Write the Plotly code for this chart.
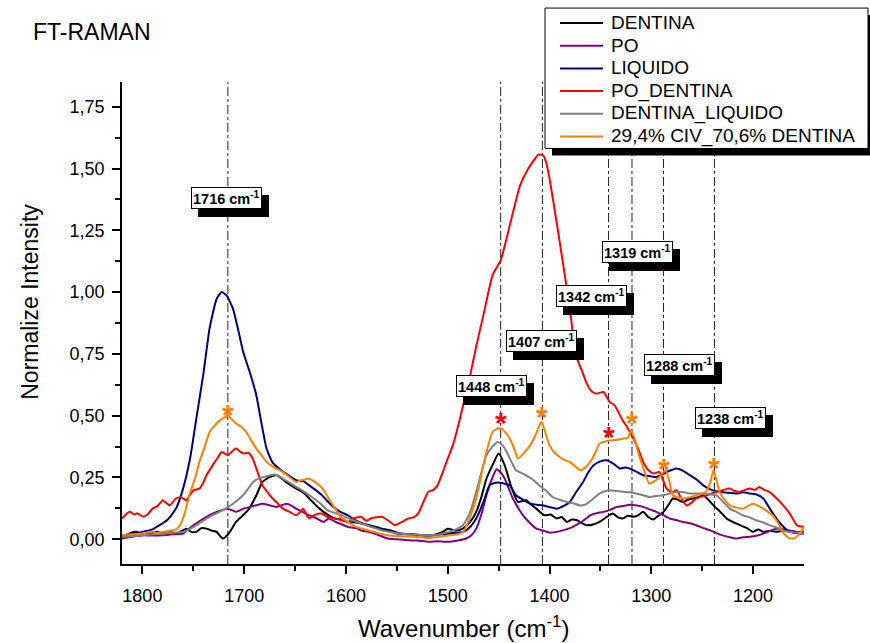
import plotly.graph_objects as go

# ---------------- data ----------------
wn_dentina = [1820, 1812, 1806, 1800, 1793, 1786, 1780, 1773, 1766, 1757, 1752, 1747, 1742, 1737, 1732, 1727, 1724, 1721, 1718, 1714,
              1708, 1701, 1695, 1688, 1682, 1675, 1668, 1659, 1649, 1642, 1636, 1626, 1618, 1611, 1604, 1598, 1590, 1585, 1575, 1565,
              1555, 1546, 1535, 1526, 1515, 1505, 1500, 1492, 1485, 1478, 1472, 1467, 1462, 1456, 1450, 1444, 1437, 1431, 1423, 1418,
              1413, 1405, 1399, 1393, 1388, 1383, 1378, 1373, 1368, 1364, 1357, 1351, 1344, 1338, 1333, 1328, 1323, 1318, 1313, 1308,
              1303, 1298, 1293, 1288, 1283, 1279, 1274, 1269, 1264, 1259, 1254, 1249, 1244, 1239, 1232, 1226, 1220, 1213, 1206, 1200,
              1195, 1190, 1183, 1177, 1170, 1163, 1157, 1150]
dentina = [0.010, 0.025, 0.030, 0.020, 0.023, 0.030, 0.025, 0.030, 0.023, 0.043, 0.030, 0.030, 0.045, 0.043, 0.035, 0.030, 0.015, 0.003, 0.010, 0.030,
           0.070, 0.097, 0.124, 0.178, 0.232, 0.252, 0.259, 0.232, 0.205, 0.190, 0.165, 0.124, 0.100, 0.084, 0.080, 0.070, 0.068, 0.064, 0.055, 0.043,
           0.035, 0.023, 0.020, 0.016, 0.016, 0.030, 0.043, 0.035, 0.043, 0.070, 0.111, 0.170, 0.245, 0.300, 0.347, 0.299, 0.205, 0.151, 0.158, 0.140,
           0.124, 0.097, 0.100, 0.084, 0.090, 0.070, 0.080, 0.077, 0.065, 0.057, 0.060, 0.070, 0.090, 0.104, 0.090, 0.084, 0.095, 0.091, 0.097, 0.111,
           0.090, 0.080, 0.095, 0.111, 0.140, 0.165, 0.160, 0.151, 0.160, 0.165, 0.170, 0.178, 0.160, 0.137, 0.110, 0.084, 0.070, 0.057, 0.045, 0.030,
           0.040, 0.030, 0.035, 0.030, 0.035, 0.030, 0.025, 0.023]

wn_po = [1820, 1810, 1799, 1790, 1780, 1770, 1760, 1755, 1750, 1745, 1740, 1735, 1731, 1724, 1717, 1712, 1708, 1700, 1694, 1688,
         1682, 1675, 1668, 1663, 1658, 1653, 1649, 1642, 1636, 1629, 1622, 1617, 1610, 1604, 1598, 1590, 1585, 1578, 1570, 1559,
         1550, 1539, 1530, 1519, 1510, 1503, 1498, 1490, 1482, 1477, 1472, 1467, 1462, 1456, 1452, 1448, 1444, 1436, 1426, 1419,
         1413, 1406, 1400, 1393, 1387, 1380, 1374, 1367, 1360, 1354, 1347, 1340, 1334, 1327, 1321, 1314, 1308, 1301, 1295, 1288,
         1282, 1275, 1269, 1262, 1256, 1249, 1242, 1236, 1230, 1223, 1216, 1210, 1203, 1196, 1190, 1183, 1177, 1170, 1163, 1157, 1150]
po = [0.003, 0.010, 0.016, 0.015, 0.016, 0.020, 0.023, 0.040, 0.057, 0.070, 0.084, 0.095, 0.104, 0.115, 0.124, 0.118, 0.111, 0.125, 0.131, 0.138,
      0.144, 0.138, 0.131, 0.138, 0.144, 0.135, 0.124, 0.110, 0.097, 0.085, 0.070, 0.084, 0.070, 0.060, 0.050, 0.045, 0.035, 0.030, 0.020, 0.003,
      0.000, -0.004, -0.005, -0.010, -0.008, -0.010, -0.010, -0.005, 0.003, 0.015, 0.043, 0.100, 0.178, 0.250, 0.283, 0.270, 0.245, 0.165, 0.097, 0.065,
      0.043, 0.035, 0.027, 0.030, 0.036, 0.045, 0.057, 0.075, 0.097, 0.105, 0.111, 0.120, 0.131, 0.135, 0.140, 0.137, 0.131, 0.120, 0.111, 0.097,
      0.084, 0.077, 0.070, 0.065, 0.057, 0.045, 0.036, 0.025, 0.016, 0.008, 0.003, 0.008, 0.010, 0.015, 0.023, 0.035, 0.043, 0.040, 0.035, 0.030, 0.030]

wn_liquido = [1820, 1810, 1800, 1790, 1783, 1775, 1767, 1760, 1753, 1747, 1740, 1734, 1727, 1722, 1717, 1711, 1706, 1701, 1694, 1688,
              1683, 1678, 1672, 1662, 1655, 1649, 1642, 1636, 1630, 1624, 1619, 1612, 1605, 1598, 1590, 1579, 1570, 1560, 1549, 1540,
              1530, 1516, 1505, 1495, 1485, 1478, 1472, 1465, 1459, 1454, 1449, 1444, 1439, 1433, 1426, 1419, 1413, 1406, 1400, 1393,
              1386, 1380, 1374, 1367, 1362, 1357, 1350, 1344, 1337, 1331, 1326, 1321, 1314, 1308, 1301, 1295, 1290, 1285, 1280, 1275,
              1268, 1262, 1255, 1249, 1241, 1233, 1225, 1216, 1210, 1203, 1196, 1190, 1183, 1177, 1170, 1164, 1157, 1150]
liquido = [0.016, 0.020, 0.030, 0.040, 0.057, 0.080, 0.124, 0.205, 0.330, 0.488, 0.670, 0.852, 0.973, 1.000, 0.985, 0.933, 0.850, 0.759, 0.670, 0.582,
           0.470, 0.367, 0.310, 0.274, 0.255, 0.239, 0.235, 0.218, 0.200, 0.180, 0.158, 0.130, 0.110, 0.097, 0.075, 0.057, 0.045, 0.035, 0.023, 0.020,
           0.018, 0.016, 0.020, 0.025, 0.030, 0.050, 0.084, 0.150, 0.218, 0.228, 0.229, 0.225, 0.218, 0.178, 0.160, 0.144, 0.140, 0.137, 0.130, 0.124,
           0.135, 0.151, 0.190, 0.232, 0.270, 0.299, 0.315, 0.320, 0.305, 0.286, 0.290, 0.286, 0.272, 0.259, 0.255, 0.252, 0.260, 0.272, 0.280, 0.286,
           0.275, 0.259, 0.240, 0.218, 0.200, 0.192, 0.188, 0.185, 0.190, 0.185, 0.180, 0.165, 0.120, 0.084, 0.050, 0.030, 0.025, 0.023]

wn_po_dentina = [1820, 1815, 1812, 1808, 1805, 1799, 1795, 1790, 1785, 1780, 1776, 1773, 1767, 1762, 1757, 1750, 1744, 1740, 1737, 1731,
                 1726, 1722, 1716, 1712, 1708, 1704, 1701, 1696, 1692, 1688, 1682, 1677, 1672, 1667, 1662, 1655, 1649, 1645, 1642, 1639,
                 1636, 1630, 1624, 1618, 1611, 1605, 1598, 1592, 1585, 1580, 1575, 1565, 1558, 1552, 1545, 1539, 1533, 1529, 1524, 1519,
                 1514, 1510, 1505, 1500, 1495, 1488, 1478, 1472, 1465, 1456, 1448, 1439, 1429, 1421, 1415, 1411, 1406, 1403, 1400, 1393,
                 1387, 1380, 1374, 1368, 1364, 1359, 1354, 1347, 1341, 1336, 1329, 1321, 1313, 1308, 1303, 1298, 1292, 1285, 1280, 1275,
                 1270, 1265, 1260, 1256, 1246, 1236, 1229, 1223, 1218, 1213, 1208, 1203, 1198, 1194, 1189, 1184, 1178, 1171, 1164, 1157, 1150]
po_dentina = [0.084, 0.105, 0.111, 0.100, 0.105, 0.091, 0.100, 0.124, 0.135, 0.158, 0.145, 0.137, 0.165, 0.170, 0.158, 0.198, 0.205, 0.230, 0.259, 0.299,
              0.330, 0.353, 0.340, 0.355, 0.367, 0.355, 0.347, 0.350, 0.330, 0.286, 0.218, 0.190, 0.165, 0.145, 0.124, 0.110, 0.097, 0.110, 0.124, 0.100,
              0.084, 0.100, 0.104, 0.090, 0.084, 0.078, 0.070, 0.085, 0.091, 0.075, 0.085, 0.091, 0.075, 0.057, 0.070, 0.084, 0.090, 0.104, 0.150, 0.192,
              0.200, 0.218, 0.270, 0.326, 0.380, 0.488, 0.663, 0.780, 0.906, 1.068, 1.128, 1.270, 1.431, 1.499, 1.535, 1.556, 1.553, 1.520, 1.459, 1.283,
              1.122, 0.933, 0.744, 0.680, 0.636, 0.600, 0.589, 0.596, 0.556, 0.542, 0.488, 0.434, 0.367, 0.313, 0.280, 0.266, 0.272, 0.205, 0.190, 0.198,
              0.160, 0.137, 0.150, 0.165, 0.178, 0.192, 0.200, 0.205, 0.195, 0.192, 0.200, 0.205, 0.200, 0.212, 0.200, 0.192, 0.170, 0.140, 0.104, 0.057, 0.050]

wn_dentina_liquido = [1820, 1810, 1800, 1790, 1780, 1770, 1760, 1753, 1747, 1740, 1734, 1727, 1721, 1716, 1711, 1706, 1701, 1696, 1691, 1686,
                      1681, 1675, 1670, 1666, 1662, 1655, 1649, 1642, 1636, 1629, 1623, 1618, 1611, 1604, 1595, 1585, 1575, 1565, 1555, 1545,
                      1530, 1519, 1510, 1505, 1495, 1485, 1478, 1472, 1467, 1462, 1456, 1451, 1446, 1442, 1437, 1433, 1423, 1416, 1410, 1403,
                      1397, 1390, 1383, 1376, 1370, 1365, 1361, 1356, 1351, 1345, 1341, 1334, 1328, 1321, 1315, 1308, 1302, 1295, 1288, 1282,
                      1275, 1268, 1262, 1255, 1249, 1242, 1236, 1229, 1223, 1216, 1210, 1203, 1197, 1190, 1184, 1177, 1171, 1164, 1157, 1150]
dentina_liquido = [0.010, 0.012, 0.016, 0.020, 0.023, 0.027, 0.030, 0.042, 0.057, 0.075, 0.091, 0.105, 0.117, 0.130, 0.144, 0.160, 0.178, 0.205, 0.232, 0.245,
                   0.252, 0.258, 0.262, 0.255, 0.245, 0.228, 0.212, 0.195, 0.178, 0.158, 0.137, 0.117, 0.107, 0.097, 0.080, 0.064, 0.050, 0.036, 0.028, 0.022,
                   0.018, 0.016, 0.018, 0.023, 0.035, 0.057, 0.110, 0.192, 0.270, 0.340, 0.375, 0.394, 0.380, 0.353, 0.310, 0.279, 0.259, 0.240, 0.218, 0.195,
                   0.171, 0.160, 0.151, 0.145, 0.137, 0.140, 0.151, 0.168, 0.185, 0.195, 0.198, 0.195, 0.192, 0.190, 0.185, 0.178, 0.171, 0.175, 0.178, 0.185,
                   0.192, 0.190, 0.185, 0.185, 0.185, 0.182, 0.178, 0.150, 0.124, 0.110, 0.097, 0.088, 0.077, 0.068, 0.057, 0.047, 0.036, 0.030, 0.026, 0.023]

wn_civ_dentina = [1820, 1810, 1799, 1790, 1785, 1780, 1772, 1767, 1763, 1758, 1754, 1748, 1744, 1739, 1734, 1729, 1724, 1720, 1716, 1712,
                  1708, 1703, 1698, 1693, 1688, 1683, 1678, 1670, 1662, 1655, 1649, 1643, 1636, 1630, 1623, 1617, 1610, 1605, 1598, 1590,
                  1578, 1568, 1559, 1545, 1532, 1520, 1513, 1505, 1498, 1490, 1485, 1479, 1472, 1467, 1462, 1456, 1451, 1447, 1443, 1439,
                  1435, 1431, 1425, 1419, 1414, 1408, 1404, 1400, 1395, 1390, 1385, 1380, 1375, 1370, 1365, 1360, 1355, 1351, 1346, 1341,
                  1335, 1328, 1323, 1320, 1316, 1313, 1308, 1302, 1297, 1292, 1286, 1282, 1279, 1274, 1269, 1262, 1256, 1250, 1246, 1242,
                  1239, 1236, 1233, 1228, 1223, 1216, 1210, 1205, 1200, 1195, 1190, 1185, 1181, 1176, 1171, 1165, 1160, 1155, 1150]
civ_dentina = [0.016, 0.020, 0.023, 0.030, 0.025, 0.030, 0.035, 0.040, 0.057, 0.110, 0.178, 0.250, 0.313, 0.370, 0.434, 0.460, 0.481, 0.490, 0.501, 0.485,
               0.468, 0.455, 0.434, 0.400, 0.367, 0.340, 0.313, 0.290, 0.272, 0.250, 0.232, 0.240, 0.245, 0.230, 0.205, 0.165, 0.120, 0.090, 0.070, 0.050,
               0.036, 0.025, 0.016, 0.012, 0.010, 0.005, 0.008, 0.012, 0.016, 0.020, 0.030, 0.080, 0.165, 0.260, 0.353, 0.434, 0.448, 0.448, 0.430, 0.407,
               0.370, 0.326, 0.350, 0.380, 0.420, 0.475, 0.430, 0.380, 0.350, 0.333, 0.320, 0.313, 0.295, 0.279, 0.290, 0.313, 0.350, 0.387, 0.395, 0.400,
               0.402, 0.407, 0.410, 0.441, 0.400, 0.353, 0.290, 0.225, 0.235, 0.252, 0.279, 0.230, 0.178, 0.170, 0.165, 0.170, 0.178, 0.185, 0.192, 0.230,
               0.279, 0.240, 0.192, 0.160, 0.137, 0.128, 0.124, 0.135, 0.144, 0.135, 0.124, 0.110, 0.097, 0.070, 0.030, 0.005, 0.003, 0.020, 0.050]

series_names = ["DENTINA", "PO", "LIQUIDO", "PO_DENTINA", "DENTINA_LIQUIDO", "29,4% CIV_70,6% DENTINA"]

peak_wn = [1716, 1448, 1407, 1342, 1319, 1288, 1238]
peak_labels = ["1716", "1448", "1407", "1342", "1319", "1288", "1238"]
label_x = [1717, 1456.7, 1407.6, 1358.5, 1313.8, 1272, 1222]
label_y = [1.382, 0.619, 0.801, 0.983, 1.163, 0.704, 0.492]

star_x = [1716, 1448, 1407, 1342, 1319, 1288, 1238]
star_y = [0.537, 0.504, 0.529, 0.448, 0.504, 0.318, 0.322]

x_tickvals = [1800, 1700, 1600, 1500, 1400, 1300, 1200]
x_ticktext = ["1800", "1700", "1600", "1500", "1400", "1300", "1200"]
y_tickvals = [0.0, 0.25, 0.5, 0.75, 1.0, 1.25, 1.5, 1.75]
y_ticktext = ["0,00", "0,25", "0,50", "0,75", "1,00", "1,25", "1,50", "1,75"]

# ---------------- styles / layout geometry ----------------
colors = ["#000000", "#800080", "#000080", "#ff0000", "#808080", "#ff8000"]
star_colors = ["#ff8000", "#ff0000", "#ff8000", "#ff0000", "#ff8000", "#ff8000", "#ff8000"]
FONT = "Liberation Sans, Arial, sans-serif"

W, H = 870, 643
ML, MR, MT, MB = 122, 66, 82, 78.5
PW, PH = W - ML - MR, H - MT - MB


def px(xp):
    return (xp - ML) / PW


def py(yp):
    return (H - MB - yp) / PH


xs = [wn_dentina, wn_po, wn_liquido, wn_po_dentina, wn_dentina_liquido, wn_civ_dentina]
ys = [dentina, po, liquido, po_dentina, dentina_liquido, civ_dentina]

fig = go.Figure()
for name, x, y, c in zip(series_names, xs, ys, colors):
    fig.add_trace(go.Scatter(x=x, y=y, mode="lines", name=name, showlegend=False,
                             line=dict(color=c, width=2, shape="spline", smoothing=0.5)))

# vertical dash-dot reference lines
for w in peak_wn:
    fig.add_shape(type="line", xref="x", yref="paper", x0=w, x1=w, y0=0, y1=1,
                  line=dict(color="#222222", width=1, dash="dashdot"), layer="below")

# peak label boxes with shadow
for lab, lx, ly in zip(peak_labels, label_x, label_y):
    txt = "<b>" + lab + " cm<sup>-1</sup></b>"
    fig.add_annotation(x=lx, y=ly, xref="x", yref="y", text=txt, showarrow=False,
                       font=dict(family=FONT, size=14.5, color="black"),
                       bgcolor="black", bordercolor="black", borderwidth=1, borderpad=1,
                       xshift=7, yshift=-8)
    fig.add_annotation(x=lx, y=ly, xref="x", yref="y", text=txt, showarrow=False,
                       font=dict(family=FONT, size=14.5, color="black"),
                       bgcolor="white", bordercolor="black", borderwidth=1, borderpad=1)

# asterisks
for sx, sy, sc in zip(star_x, star_y, star_colors):
    fig.add_annotation(x=sx, y=sy, xref="x", yref="y", text="<b>*</b>", showarrow=False,
                       font=dict(family=FONT, size=30, color=sc), yshift=-8)

# legend (box with drop shadow)
LEG_L, LEG_R, LEG_T, LEG_B = 545, 868, 8, 148.5
fig.add_shape(type="rect", xref="paper", yref="paper",
              x0=px(LEG_L + 7), x1=px(LEG_R + 7), y0=py(LEG_B + 7), y1=py(LEG_T + 7),
              fillcolor="black", line=dict(width=0), layer="above")
fig.add_shape(type="rect", xref="paper", yref="paper",
              x0=px(LEG_L), x1=px(LEG_R), y0=py(LEG_B), y1=py(LEG_T),
              fillcolor="white", line=dict(color="black", width=1), layer="above")
for i, (name, c) in enumerate(zip(series_names, colors)):
    yc = 23.0 + i * 22.7
    fig.add_shape(type="line", xref="paper", yref="paper",
                  x0=px(560), x1=px(603), y0=py(yc), y1=py(yc),
                  line=dict(color=c, width=2), layer="above")
    fig.add_annotation(x=px(609), y=py(yc - 0.5), xref="paper", yref="paper", xanchor="left", yanchor="middle",
                       text=name, showarrow=False, font=dict(family=FONT, size=19, color="black"))

# title & axis titles
fig.add_annotation(x=px(31), y=py(32), xref="paper", yref="paper", xanchor="left", yanchor="middle",
                   text="FT-RAMAN", showarrow=False, font=dict(family=FONT, size=23, color="black"))
fig.add_annotation(x=px(30), y=py(302), xref="paper", yref="paper", xanchor="center", yanchor="middle",
                   textangle=-90, text="Normalize Intensity", showarrow=False,
                   font=dict(family=FONT, size=23, color="black"))
fig.add_annotation(x=px(463), y=py(628), xref="paper", yref="paper", xanchor="center", yanchor="middle",
                   text="Wavenumber (cm<sup>-1</sup>)", showarrow=False,
                   font=dict(family=FONT, size=24, color="black"))

fig.update_layout(
    width=W, height=H,
    margin=dict(l=ML, r=MR, t=MT, b=MB),
    plot_bgcolor="white", paper_bgcolor="white",
    font=dict(family=FONT, color="black"),
    separators=",.",
    showlegend=False,
)
fig.update_xaxes(range=[1820, 1150], tickmode="array", tickvals=x_tickvals, ticktext=x_ticktext,
                 ticks="outside", ticklen=8, tickwidth=1.5, tickcolor="black",
                 showline=True, linecolor="black", linewidth=1.5, showgrid=False, zeroline=False,
                 tickfont=dict(family=FONT, size=18, color="black"), ticklabelstandoff=7,
                 minor=dict(ticks="outside", ticklen=5, tickwidth=1.5, tickcolor="black",
                            tickmode="array", tickvals=[1750, 1650, 1550, 1450, 1350, 1250]))
fig.update_yaxes(range=[-0.1, 1.85], tickmode="array", tickvals=y_tickvals, ticktext=y_ticktext,
                 ticks="outside", ticklen=8, tickwidth=1.5, tickcolor="black",
                 showline=True, linecolor="black", linewidth=1.5, showgrid=False, zeroline=False,
                 tickfont=dict(family=FONT, size=18, color="black"), ticklabelstandoff=4,
                 minor=dict(ticks="outside", ticklen=5, tickwidth=1.5, tickcolor="black",
                            tickmode="array", tickvals=[-0.125 + 0.25 * k for k in range(1, 9)]))

fig.write_html("out.html")
